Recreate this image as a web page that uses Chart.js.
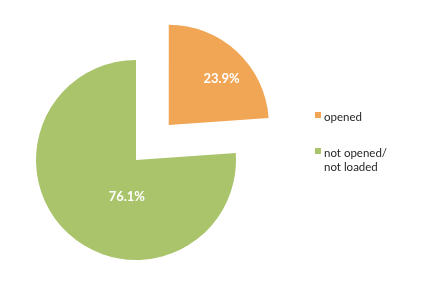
<!DOCTYPE html>
<html>
<head>
<meta charset="utf-8">
<script src="https://cdn.jsdelivr.net/npm/chart.js@4"></script>
<style>
    html, body { margin: 0; padding: 0; background: #fff; }
    #wrap { position: relative; width: 423px; height: 294px; }
    #legend { position: absolute; left: 315px; top: 110px; font-family: Lato, "Open Sans", sans-serif; font-size: 11.5px; color: #262626; line-height: 14px; }
    .item { position: relative; padding-left: 9px; }
    .item + .item { margin-top: 22px; }
    .box { position: absolute; left: 0; top: 2px; width: 6px; height: 6px; }
</style>
</head>
<body>
<div id="wrap">
    <canvas id="chart"></canvas>
    <div id="legend"></div>
</div>
<script>
// Chart data
const labels = ['opened', 'not opened/\nnot loaded'];
const values = [23.9, 76.1];
const colors = ['#F1A656', '#AAC46C'];

// Percent labels drawn inside the slices
const sliceLabels = {
    id: 'sliceLabels',
    afterDatasetsDraw(chart, args, opts) {
        const ctx = chart.ctx;
        const meta = chart.getDatasetMeta(0);
        ctx.save();
        ctx.fillStyle = '#fff';
        ctx.font = 'bold 13px Lato, "Open Sans", sans-serif';
        ctx.textAlign = 'center';
        ctx.textBaseline = 'middle';
        meta.data.forEach((arc, i) => {
            const p = arc.getProps(['x', 'y', 'startAngle', 'endAngle', 'outerRadius']);
            const half = (p.startAngle + p.endAngle) / 2;
            const shift = (arc.options.offset || 0) / 4;
            const cx = p.x + Math.cos(half) * shift;
            const cy = p.y + Math.sin(half) * shift;
            const place = opts.place[i];
            const a = place.angle * Math.PI / 180;
            const r = p.outerRadius * place.dist;
            ctx.fillText(values[i].toFixed(1) + '%', cx + Math.cos(a) * r, cy + Math.sin(a) * r);
        });
        ctx.restore();
    }
};

new Chart(document.getElementById('chart'), {
    type: 'pie',
    data: {
        labels: labels,
        datasets: [{
            data: values,
            backgroundColor: colors,
            borderWidth: 0,
            offset: [192, 0],
            hoverOffset: 0
        }]
    },
    options: {
        responsive: true,
        maintainAspectRatio: false,
        animation: false,
        radius: 100,
        layout: { padding: { left: 0, right: 151, top: 26, bottom: 0 } },
        plugins: {
            legend: { display: false },
            tooltip: { enabled: false },
            sliceLabels: { place: [{ angle: -41, dist: 0.70 }, { angle: 104, dist: 0.38 }] }
        }
    },
    plugins: [sliceLabels]
});

// Legend on the right
document.getElementById('legend').innerHTML = labels.map((label, i) => `
    <div class="item"><span class="box" style="background:${colors[i]}"></span>${label.replace('\n', '<br>')}</div>
`).join('');
</script>
</body>
</html>
